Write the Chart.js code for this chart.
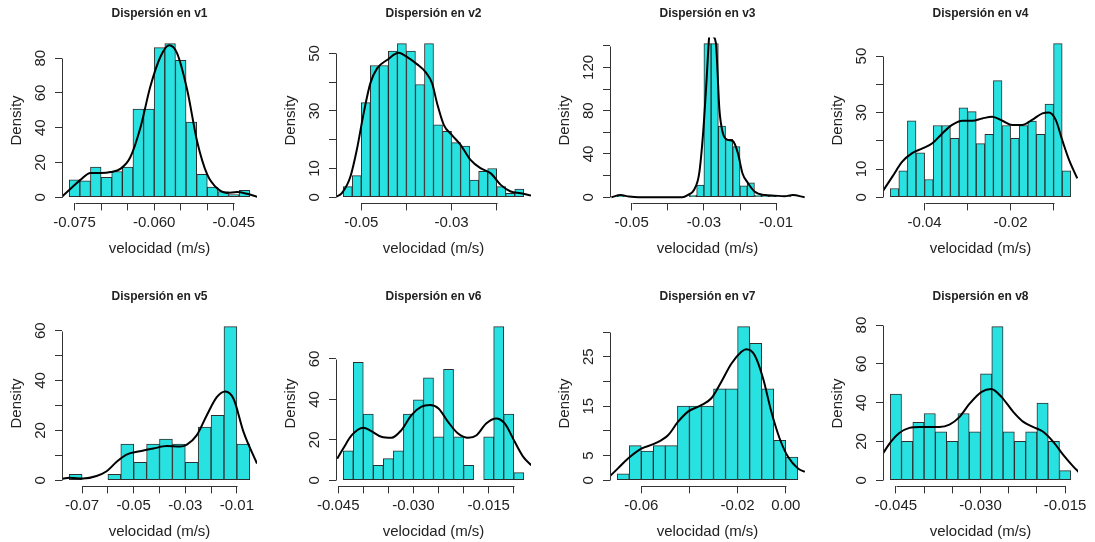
<!DOCTYPE html>
<html>
  <head>
    <meta charset="utf-8">
    <title>Dispersión de velocidades</title>
    <style>
      body { margin: 0; background: #fff; overflow: hidden; }
      #wrap { position: relative; width: 1095px; height: 542px; }
      #wrap canvas { position: absolute; }
    </style>
  </head>
  <body>
    <div id="wrap">
      <canvas id="v1" width="274" height="259" style="left:0px;top:0px"></canvas>
      <canvas id="v2" width="274" height="259" style="left:274px;top:0px"></canvas>
      <canvas id="v3" width="274" height="259" style="left:548px;top:0px"></canvas>
      <canvas id="v4" width="274" height="259" style="left:821px;top:0px"></canvas>
      <canvas id="v5" width="274" height="259" style="left:0px;top:283px"></canvas>
      <canvas id="v6" width="274" height="259" style="left:274px;top:283px"></canvas>
      <canvas id="v7" width="274" height="259" style="left:548px;top:283px"></canvas>
      <canvas id="v8" width="274" height="259" style="left:821px;top:283px"></canvas>
    </div>

    <script src="https://cdn.jsdelivr.net/npm/chart.js@4.4.0/dist/chart.umd.min.js"></script>
    <script type="text/javascript">
      // ---- v1 ----
      var v1Breaks = [-0.076, -0.074, -0.072, -0.070, -0.068, -0.066, -0.064, -0.062, -0.060, -0.058, -0.056, -0.054, -0.052, -0.050, -0.048, -0.046, -0.044, -0.042];
      var v1Density = [10, 9.4, 17.3, 11.5, 14.8, 17.3, 50.8, 50.8, 86.1, 88.4, 78.8, 43.2, 13.2, 5.9, 3.3, 1.5, 4];
      var v1CurveX = [-0.0775, -0.0757, -0.0739, -0.0720, -0.0701, -0.0682, -0.0663, -0.0645, -0.0626, -0.0607, -0.0588, -0.0572, -0.0557, -0.0538, -0.0519, -0.0500, -0.0481, -0.0463, -0.0444, -0.0425, -0.0406];
      var v1CurveY = [0, 5, 10, 14, 14, 14.5, 16.5, 23, 40, 64, 81, 87.5, 83, 62, 32, 13, 5, 2.5, 3, 2, 0.3];
      var v1XTicks = [-0.075, -0.070, -0.065, -0.060, -0.055, -0.050, -0.045];
      var v1XLabels = ['-0.075', '', '', '-0.060', '', '', '-0.045'];
      var v1YTicks = [0, 20, 40, 60, 80];
      var v1YLabels = ['0', '20', '40', '60', '80'];

      // ---- v2 ----
      var v2Breaks = [-0.054, -0.052, -0.050, -0.048, -0.046, -0.044, -0.042, -0.040, -0.038, -0.036, -0.034, -0.032, -0.030, -0.028, -0.026, -0.024, -0.022, -0.020, -0.018, -0.016, -0.014];
      var v2Density = [3.7, 7.5, 32.9, 45.8, 45.8, 50.8, 53.4, 50.8, 39.2, 53.4, 25.2, 22.9, 19, 17.8, 6, 9, 10, 3.7, 1.4, 2.8];
      var v2CurveX = [-0.0556, -0.0543, -0.0524, -0.0510, -0.0495, -0.0480, -0.0465, -0.0443, -0.0417, -0.0399, -0.0376, -0.0358, -0.0343, -0.0332, -0.0317, -0.0299, -0.0280, -0.0258, -0.0236, -0.0213, -0.0191, -0.0169, -0.0147, -0.0124];
      var v2CurveY = [0.2, 1.4, 7.2, 16.4, 29, 39.6, 44.8, 47.7, 50.2, 48.8, 46.2, 43.6, 39.6, 32.6, 25.1, 21.6, 18.2, 13, 10.1, 8.3, 4.3, 2, 1.4, 0.6];
      var v2XTicks = [-0.05, -0.04, -0.03, -0.02];
      var v2XLabels = ['-0.05', '', '-0.03', ''];
      var v2YTicks = [0, 10, 20, 30, 40, 50];
      var v2YLabels = ['0', '10', '', '30', '', '50'];

      // ---- v3 ----
      var v3Breaks = [-0.054, -0.052, -0.050, -0.048, -0.046, -0.044, -0.042, -0.040, -0.038, -0.036, -0.034, -0.032, -0.030, -0.028, -0.026, -0.024, -0.022, -0.020, -0.018, -0.016, -0.014, -0.012, -0.010, -0.008, -0.006, -0.004];
      var v3Density = [1, 0, 0, 0, 0, 0, 0, 0, 0, 0, 2, 11.2, 142, 142, 65.7, 53.6, 46.8, 10.5, 13.3, 2, 1, 1, 0, 1, 0];
      var v3CurveX = [-0.0556, -0.0531, -0.0507, -0.0480, -0.0360, -0.0345, -0.0327, -0.0313, -0.0302, -0.0293, -0.0285, -0.0280, -0.0276, -0.0267, -0.0257, -0.0248, -0.0234, -0.0220, -0.0206, -0.0193, -0.0179, -0.0160, -0.0132, -0.0105, -0.0077, -0.0054, -0.0021];
      var v3CurveY = [0, 2, 0.6, 0, 0, 2, 7, 22, 60, 106, 150, 158, 150, 143, 81, 60, 53, 52, 41, 22, 13.6, 5.3, 2, 1.5, 1, 2, 0];
      var v3XTicks = [-0.05, -0.04, -0.03, -0.02, -0.01];
      var v3XLabels = ['-0.05', '', '-0.03', '', '-0.01'];
      var v3YTicks = [0, 20, 40, 60, 80, 100, 120, 140];
      var v3YLabels = ['0', '', '40', '', '80', '', '120', ''];

      // ---- v4 ----
      var v4Breaks = [-0.048, -0.046, -0.044, -0.042, -0.040, -0.038, -0.036, -0.034, -0.032, -0.030, -0.028, -0.026, -0.024, -0.022, -0.020, -0.018, -0.016, -0.014, -0.012, -0.010, -0.008, -0.006];
      var v4Density = [3.1, 9.4, 27.1, 15.7, 6.3, 25.4, 25.4, 20.9, 31.7, 30.3, 19, 22.3, 41.3, 25.4, 20.9, 25.4, 27, 22.3, 33, 54.4, 9.4];
      var v4CurveX = [-0.0498, -0.0475, -0.0452, -0.0429, -0.0405, -0.0382, -0.0359, -0.0336, -0.0312, -0.0289, -0.0266, -0.0243, -0.0219, -0.0196, -0.0173, -0.0150, -0.0126, -0.0111, -0.0095, -0.0080, -0.0064, -0.0045];
      var v4CurveY = [2, 7.3, 12.6, 15.6, 17.3, 19.1, 22.6, 25.6, 27.1, 27.1, 27.9, 28.5, 27.1, 25.6, 25.6, 27.4, 29.7, 30, 27.4, 20.3, 13.2, 6.7];
      var v4XTicks = [-0.04, -0.03, -0.02, -0.01];
      var v4XLabels = ['-0.04', '', '-0.02', ''];
      var v4YTicks = [0, 10, 20, 30, 40, 50];
      var v4YLabels = ['0', '10', '', '30', '', '50'];

      // ---- v5 ----
      var v5Breaks = [-0.075, -0.070, -0.065, -0.060, -0.055, -0.050, -0.045, -0.040, -0.035, -0.030, -0.025, -0.020, -0.015, -0.010, -0.005];
      var v5Density = [2.4, 0, 0, 2.4, 14.5, 7.2, 14.5, 16.5, 14.5, 7.2, 21.3, 26, 61.6, 14.5];
      var v5CurveX = [-0.0783, -0.0748, -0.0696, -0.0644, -0.0605, -0.0567, -0.0528, -0.0476, -0.0424, -0.0372, -0.0320, -0.0294, -0.0256, -0.0217, -0.0178, -0.0145, -0.0113, -0.0074, -0.0022];
      var v5CurveY = [0.5, 1, 0.7, 1.7, 3.6, 7.3, 10.3, 11.6, 12.7, 13.7, 13.5, 14.3, 18, 26, 33.3, 35.6, 32.7, 19.3, 6.7];
      var v5XTicks = [-0.07, -0.06, -0.05, -0.04, -0.03, -0.02, -0.01];
      var v5XLabels = ['-0.07', '', '-0.05', '', '-0.03', '', '-0.01'];
      var v5YTicks = [0, 10, 20, 30, 40, 50, 60];
      var v5YLabels = ['0', '', '20', '', '40', '', '60'];

      // ---- v6 ----
      var v6Breaks = [-0.044, -0.042, -0.040, -0.038, -0.036, -0.034, -0.032, -0.030, -0.028, -0.026, -0.024, -0.022, -0.020, -0.018, -0.016, -0.014, -0.012, -0.010, -0.008];
      var v6Density = [14.5, 58.3, 32.7, 7.4, 10.7, 14.5, 32.7, 39.8, 50.7, 21.5, 54.9, 21.5, 7.4, 0, 21.5, 76, 32.7, 3.8];
      var v6CurveX = [-0.0452, -0.0440, -0.0423, -0.0400, -0.0384, -0.0364, -0.0344, -0.0324, -0.0304, -0.0284, -0.0267, -0.0250, -0.0231, -0.0211, -0.0191, -0.0174, -0.0155, -0.0135, -0.0118, -0.0098, -0.0081, -0.0065];
      var v6CurveY = [10.7, 15.7, 22.3, 26, 24.3, 21.5, 21, 24.8, 32.2, 36.4, 37.2, 35.5, 28.9, 23.1, 21, 22.3, 28.1, 30.6, 28.1, 19, 11.6, 7.4];
      var v6XTicks = [-0.045, -0.040, -0.035, -0.030, -0.025, -0.020, -0.015, -0.010];
      var v6XLabels = ['-0.045', '', '', '-0.030', '', '', '-0.015', ''];
      var v6YTicks = [0, 20, 40, 60];
      var v6YLabels = ['0', '20', '40', '60'];

      // ---- v7 ----
      var v7Breaks = [-0.070, -0.065, -0.060, -0.055, -0.050, -0.045, -0.040, -0.035, -0.030, -0.025, -0.020, -0.015, -0.010, -0.005, 0.000, 0.005];
      var v7Density = [1.3, 7, 5.9, 7, 7, 15, 15, 15, 18.5, 18.5, 31.1, 27.7, 18.5, 8.1, 4.7];
      var v7CurveX = [-0.0729, -0.0697, -0.0655, -0.0600, -0.0545, -0.0489, -0.0448, -0.0406, -0.0351, -0.0309, -0.0268, -0.0226, -0.0184, -0.0164, -0.0129, -0.0094, -0.0060, -0.0025, 0.0010, 0.0051, 0.0079];
      var v7CurveY = [0.9, 2.4, 4.4, 6.4, 7.4, 9.1, 11.8, 13.9, 15.2, 16.6, 19.9, 23.6, 26, 26.5, 25.3, 20.6, 13.9, 8.4, 4.7, 2.4, 1.7];
      var v7XTicks = [-0.06, -0.04, -0.02, 0.00];
      var v7XLabels = ['-0.06', '', '-0.02', '0.00'];
      var v7YTicks = [0, 5, 10, 15, 20, 25, 30];
      var v7YLabels = ['0', '5', '', '15', '', '25', ''];

      // ---- v8 ----
      var v8Breaks = [-0.046, -0.044, -0.042, -0.040, -0.038, -0.036, -0.034, -0.032, -0.030, -0.028, -0.026, -0.024, -0.022, -0.020, -0.018, -0.016, -0.014];
      var v8Density = [44.4, 20.1, 29.9, 34.4, 25, 20.1, 34.4, 25, 54.9, 79.2, 25, 20.1, 25, 39.8, 20.1, 5];
      var v8CurveX = [-0.0474, -0.0459, -0.0444, -0.0426, -0.0408, -0.0391, -0.0373, -0.0355, -0.0337, -0.0319, -0.0298, -0.0281, -0.0263, -0.0242, -0.0224, -0.0207, -0.0189, -0.0171, -0.0153, -0.0135, -0.0126];
      var v8CurveY = [13.3, 19.8, 24.4, 27, 27.5, 27.5, 27.5, 28.7, 32.7, 39.6, 45.6, 47, 43, 35.3, 30.1, 27.5, 25, 19.8, 12.9, 6.9, 4.3];
      var v8XTicks = [-0.045, -0.040, -0.035, -0.030, -0.025, -0.020, -0.015];
      var v8XLabels = ['-0.045', '', '', '-0.030', '', '', '-0.015'];
      var v8YTicks = [0, 20, 40, 60, 80];
      var v8YLabels = ['0', '20', '40', '60', '80'];

      var FAMILY = "'Liberation Sans', Arial, Helvetica, sans-serif";
      Chart.defaults.font.family = FAMILY;
      Chart.defaults.color = '#222';

      var measure = document.createElement('canvas').getContext('2d');
      measure.font = '15px ' + FAMILY;

      // R style axes: the axis line only runs from the first to the last tick
      var rAxes = {
        id: 'rAxes',
        afterDraw: function (chart) {
          var ctx = chart.ctx, a = chart.chartArea;
          var xs = chart.scales.x, ys = chart.scales.y;
          var yb = Math.round(a.bottom) + 0.5, xl = Math.round(a.left) + 0.5;
          ctx.save();
          ctx.strokeStyle = '#333';
          ctx.lineWidth = 1;
          ctx.beginPath();
          ctx.moveTo(Math.round(xs.getPixelForTick(0)) + 0.5, yb);
          ctx.lineTo(Math.round(xs.getPixelForTick(xs.ticks.length - 1)) + 0.5, yb);
          ctx.moveTo(xl, Math.round(ys.getPixelForTick(0)) + 0.5);
          ctx.lineTo(xl, Math.round(ys.getPixelForTick(ys.ticks.length - 1)) + 0.5);
          ctx.stroke();
          ctx.restore();
        }
      };

      function makePanel(id, title, breaks, dens, curveX, curveY, xTicks, xLabels, yTicks, yLabels) {
        var bars = [];
        for (var i = 0; i < dens.length; i++) {
          bars.push({x: (breaks[i] + breaks[i + 1]) / 2, y: dens[i]});
        }
        var curve = curveX.map(function (x, i) { return {x: x, y: curveY[i]}; });
        var xr = breaks[breaks.length - 1] - breaks[0];
        var ymax = Math.max.apply(null, dens);
        var widest = Math.max.apply(null, yLabels.map(function (l) { return measure.measureText(l).width; }));

        new Chart(document.getElementById(id), {
          type: 'bar',
          data: {
            datasets: [{
              type: 'line',
              data: curve,
              borderColor: '#000',
              borderWidth: 2,
              pointRadius: 0,
              cubicInterpolationMode: 'monotone',
              order: 0
            }, {
              type: 'bar',
              data: bars,
              backgroundColor: 'rgb(40, 226, 226)',
              borderColor: '#2e2e2e',
              borderWidth: 1,
              borderSkipped: false,
              barPercentage: 1,
              categoryPercentage: 1,
              order: 1
            }]
          },
          options: {
            responsive: false,
            animation: false,
            devicePixelRatio: 1,
            layout: { padding: { left: 0, right: 17, top: 0, bottom: 1.6 } },
            plugins: {
              legend: { display: false },
              tooltip: { enabled: false },
              title: {
                display: true,
                text: title,
                fullSize: false,
                color: '#222',
                font: { size: 12, weight: 'bold' },
                padding: { top: 6.8, bottom: 16.3 }
              }
            },
            scales: {
              x: {
                type: 'linear',
                offset: false,
                bounds: 'data',
                min: breaks[0] - 0.04 * xr,
                max: breaks[breaks.length - 1] + 0.04 * xr,
                afterBuildTicks: function (s) { s.ticks = xTicks.map(function (v) { return {value: v}; }); },
                afterFit: function (s) { s.height = 54; },
                grid: { offset: false, drawOnChartArea: false, drawTicks: true, tickLength: 7, color: '#333' },
                border: { display: false },
                ticks: {
                  autoSkip: false, maxRotation: 0, padding: 3,
                  font: { size: 15 },
                  callback: function (v, i) { return xLabels[i]; }
                },
                title: { display: true, text: 'velocidad (m/s)', font: { size: 15 }, padding: { top: 0, bottom: 0 } }
              },
              y: {
                type: 'linear',
                bounds: 'data',
                min: -0.04 * ymax,
                max: 1.04 * ymax,
                afterBuildTicks: function (s) { s.ticks = yTicks.map(function (v) { return {value: v}; }); },
                afterFit: function (s) { s.width = 62; },
                grid: { drawOnChartArea: false, drawTicks: true, tickLength: 7, color: '#333' },
                border: { display: false },
                ticks: {
                  autoSkip: false, minRotation: 90, maxRotation: 90,
                  crossAlign: 'center',
                  padding: 14.3 - widest / 2,
                  font: { size: 15 },
                  callback: function (v, i) { return yLabels[i]; }
                },
                title: { display: true, text: 'Density', font: { size: 15 }, padding: { top: 8.3, bottom: 0 } }
              }
            }
          },
          plugins: [rAxes]
        });
      }

      makePanel('v1', 'Dispersión en v1', v1Breaks, v1Density, v1CurveX, v1CurveY, v1XTicks, v1XLabels, v1YTicks, v1YLabels);
      makePanel('v2', 'Dispersión en v2', v2Breaks, v2Density, v2CurveX, v2CurveY, v2XTicks, v2XLabels, v2YTicks, v2YLabels);
      makePanel('v3', 'Dispersión en v3', v3Breaks, v3Density, v3CurveX, v3CurveY, v3XTicks, v3XLabels, v3YTicks, v3YLabels);
      makePanel('v4', 'Dispersión en v4', v4Breaks, v4Density, v4CurveX, v4CurveY, v4XTicks, v4XLabels, v4YTicks, v4YLabels);
      makePanel('v5', 'Dispersión en v5', v5Breaks, v5Density, v5CurveX, v5CurveY, v5XTicks, v5XLabels, v5YTicks, v5YLabels);
      makePanel('v6', 'Dispersión en v6', v6Breaks, v6Density, v6CurveX, v6CurveY, v6XTicks, v6XLabels, v6YTicks, v6YLabels);
      makePanel('v7', 'Dispersión en v7', v7Breaks, v7Density, v7CurveX, v7CurveY, v7XTicks, v7XLabels, v7YTicks, v7YLabels);
      makePanel('v8', 'Dispersión en v8', v8Breaks, v8Density, v8CurveX, v8CurveY, v8XTicks, v8XLabels, v8YTicks, v8YLabels);
    </script>
  </body>
</html>
